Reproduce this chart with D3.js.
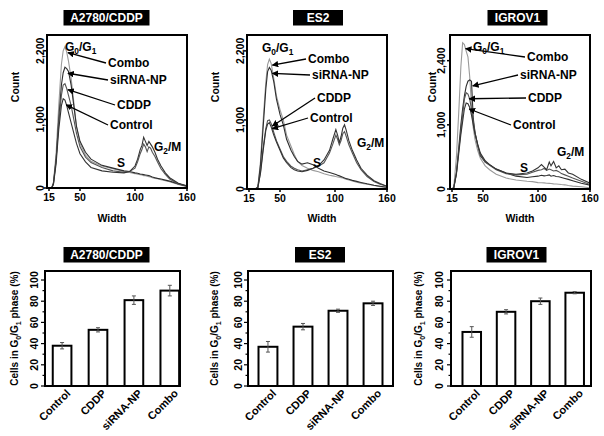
<!DOCTYPE html>
<html><head><meta charset="utf-8">
<script src="https://cdn.jsdelivr.net/npm/d3@7"></script>
<style>
body{margin:0;background:#fff;}
text{font-family:"Liberation Sans",Arial,Helvetica,sans-serif;font-weight:bold;fill:#000;}
</style></head><body>
<svg id="chart" width="604" height="436"></svg>
<script>
// ---------------- DATA ----------------
const cellLines = ["A2780/CDDP", "ES2", "IGROV1"];
const treatments = ["Control", "CDDP", "siRNA-NP", "Combo"];

// histogram axes
const widthTicks = [15, 50, 100, 160];
const widthTickLabels = ["15", "50", "100", "160"];
const countTicks = [0, 1000, 2000];
const countTickLabels = [["0", "1,000", "2,200"], ["0", "1,000", "2,200"], ["0", "1,000", "2,400"]];
const countMax = [2230, 2230, 2400];

// A2780/CDDP histogram
const a2780Width   = [15,18,20,23,26,29,31,33,35,37,40,43,46,50,55,60,70,80,90,95,100,103,106,108,110,112,114,116,118,120,123,126,130,135,140,150,160];
const a2780Combo   = [0,0,80,500,1200,1800,2000,2060,1980,1850,1600,1250,900,650,480,390,320,280,240,225,210,200,195,190,180,178,170,165,160,150,140,135,120,105,90,50,20];
const a2780Sirna   = [0,0,70,420,1000,1500,1680,1760,1740,1700,1500,1200,900,680,520,420,330,290,250,240,220,215,205,200,195,190,185,180,172,160,150,140,130,115,100,60,25];
const a2780Cddp    = [0,0,60,400,950,1350,1500,1520,1450,1350,1200,1000,800,600,450,370,300,250,230,240,290,380,500,560,640,600,530,600,580,520,460,380,280,200,130,60,30];
const a2780Control = [0,0,50,350,850,1200,1300,1280,1200,1100,950,800,650,500,380,300,250,230,220,240,320,420,560,620,740,680,620,680,640,600,520,420,320,220,150,70,30];

// ES2 histogram
const es2Width   = [15,22,25,28,31,34,36,38,40,43,46,50,53,56,60,63,66,70,75,80,85,90,95,98,101,103,105,107,109,111,113,116,120,125,130,137,145,152,160];
const es2Combo   = [0,0,30,400,1000,1550,1800,1880,1820,1600,1350,1150,1000,780,620,500,400,340,300,270,250,220,200,190,180,175,170,165,160,150,140,130,115,100,85,70,50,35,20];
const es2Sirna   = [0,0,25,350,900,1450,1700,1760,1720,1550,1300,1080,930,720,560,470,400,360,380,350,300,260,240,225,210,200,190,180,170,160,150,140,125,110,95,75,55,40,25];
const es2Cddp    = [0,0,20,250,600,880,990,1000,950,820,700,580,470,400,330,300,280,260,280,300,330,380,520,650,780,720,640,700,800,830,760,640,520,380,280,180,110,70,40];
const es2Control = [0,0,20,230,560,850,940,960,900,780,680,560,450,380,310,280,260,250,270,300,340,420,560,720,860,780,670,760,880,930,850,700,560,420,300,200,120,80,40];

// IGROV1 histogram
const igrovWidth   = [15,17,20,23,25,27,29,31,33,35,37,39,41,44,47,52,56,62,71,80,90,95,100,104,107,110,113,115,118,121,124,127,131,135,140,150,160];
const igrovCombo   = [0,30,500,1300,1900,2280,2250,2150,2060,1750,1300,950,770,600,480,360,300,230,170,140,120,115,100,98,95,90,88,85,80,78,75,70,65,55,45,35,20];
const igrovSirna   = [0,20,250,700,1000,1250,1450,1600,1680,1700,1680,1100,880,680,520,420,380,310,250,200,180,190,200,215,205,210,220,200,210,195,190,180,165,150,130,90,60];
const igrovCddp    = [0,20,250,650,900,1150,1400,1500,1480,1400,1250,1050,880,680,540,420,370,300,240,220,230,260,290,300,320,290,310,300,280,290,270,240,220,200,170,120,70];
const igrovControl = [0,20,230,600,850,1050,1250,1340,1330,1270,1150,1000,860,700,560,440,380,310,250,230,250,280,330,380,340,300,420,360,430,330,360,300,310,250,230,150,90];

// bar charts: % cells in G0/G1
const pctTicks = [0, 20, 40, 60, 80, 100];
const a2780Pct = [38, 53, 81, 90];
const a2780Err = [3, 2, 4, 5];
const es2Pct   = [37, 56, 71, 78];
const es2Err   = [5, 3, 1.5, 2];
const igrovPct = [51, 70, 80, 88];
const igrovErr = [5, 2, 3, 1];

// ---------------- LAYOUT ----------------
const svg = d3.select("#chart");
const defs = svg.append("defs");
defs.append("marker").attr("id", "ah").attr("viewBox", "0 0 10 10")
  .attr("refX", 9).attr("refY", 5).attr("markerWidth", 5).attr("markerHeight", 5)
  .attr("orient", "auto").append("path").attr("d", "M0,0L10,5L0,10z").attr("fill", "#000");

const seriesColor = {"Combo": "#9a9a9a", "siRNA-NP": "#2e2e2e", "CDDP": "#555", "Control": "#333"};

const histData = [
  {widths: a2780Width, series: {"Control": a2780Control, "CDDP": a2780Cddp, "siRNA-NP": a2780Sirna, "Combo": a2780Combo}},
  {widths: es2Width, series: {"Control": es2Control, "CDDP": es2Cddp, "siRNA-NP": es2Sirna, "Combo": es2Combo}},
  {widths: igrovWidth, series: {"Control": igrovControl, "CDDP": igrovCddp, "siRNA-NP": igrovSirna, "Combo": igrovCombo}}
];

const topLayout = [
  {L: 47, B: 188, countX: 15, tickBase: 44, widthX: 112, titleCX: 106.5, titleW: 86,
   lab: {"G0": [18, 16], "Combo": [61, 32], "siRNA-NP": [63, 49], "CDDP": [70, 74], "Control": [63, 94], "S": [70, 132], "G2": [107, 116]}},
  {L: 247, B: 189, countX: 215, tickBase: 244, widthX: 322, titleCX: 318, titleW: 50,
   lab: {"G0": [15, 17], "Combo": [61, 28], "siRNA-NP": [65, 44], "CDDP": [70, 67], "Control": [63, 87], "S": [66, 132], "G2": [110, 112]}},
  {L: 450, B: 189, countX: 432, tickBase: 445, widthX: 520, titleCX: 517.5, titleW: 60,
   lab: {"G0": [23, 16], "Combo": [77, 26], "siRNA-NP": [70, 44], "CDDP": [78, 67], "Control": [63, 94], "S": [70, 137], "G2": [107, 121]}}
];
const TOP = 35, PW = 140;

function titleBox(cx, y, w, label) {
  svg.append("rect").attr("x", cx - w / 2).attr("y", y).attr("width", w).attr("height", 15.5).attr("fill", "#000");
  svg.append("text").attr("x", cx).attr("y", y + 12).attr("text-anchor", "middle")
    .style("fill", "#fff").style("font-size", "12px").text(label);
}

function subText(g, x, y, parts, size) {
  const t = g.append("text").attr("x", x).attr("y", y).style("font-size", size + "px");
  parts.forEach(p => {
    const ts = t.append("tspan").text(p[0]);
    if (p[1] === "sub") ts.style("font-size", (size * 0.7) + "px").attr("dy", size * 0.25);
    if (p[1] === "up") ts.attr("dy", -size * 0.25);
  });
  return t;
}

histData.forEach((hd, i) => {
  const lay = topLayout[i];
  const L = lay.L, B = lay.B;
  const x = d3.scaleLinear().domain(widthTicks).range([L + 2, L + 33, L + 88, L + PW]);
  const y = d3.scaleLinear().domain([0, countMax[i]]).range([B, TOP]);

  titleBox(lay.titleCX, 10, lay.titleW, cellLines[i]);

  const clipId = "clip" + i;
  defs.append("clipPath").attr("id", clipId).append("rect")
    .attr("x", L).attr("y", TOP).attr("width", PW).attr("height", B - TOP);

  const line = d3.line().x(d => x(d[0])).y(d => y(d[1]));
  ["Combo", "siRNA-NP", "CDDP", "Control"].forEach(s => {
    const pts = hd.widths.map((w, k) => [w, hd.series[s][k]]);
    svg.append("path").datum(pts).attr("d", line).attr("fill", "none")
      .attr("stroke", seriesColor[s]).attr("stroke-width", 1.1).attr("clip-path", `url(#${clipId})`);
  });

  svg.append("rect").attr("x", L).attr("y", TOP).attr("width", PW).attr("height", B - TOP)
    .attr("fill", "none").attr("stroke", "#000").attr("stroke-width", 2);

  countTicks.forEach((v, k) => {
    svg.append("line").attr("x1", L - 3).attr("x2", L).attr("y1", y(v)).attr("y2", y(v)).attr("stroke", "#000").attr("stroke-width", 1.5);
    svg.append("text").attr("transform", `translate(${lay.tickBase},${y(v)}) rotate(-90)`)
      .attr("text-anchor", "middle").style("font-size", "10.5px").text(countTickLabels[i][k]);
  });
  widthTicks.forEach((v, k) => {
    svg.append("line").attr("x1", x(v)).attr("x2", x(v)).attr("y1", B).attr("y2", B + 3).attr("stroke", "#000").attr("stroke-width", 1.5);
    svg.append("text").attr("x", x(v)).attr("y", B + 13).attr("text-anchor", "middle").style("font-size", "10.5px").text(widthTickLabels[k]);
  });
  svg.append("text").attr("x", lay.widthX).attr("y", 222).attr("text-anchor", "middle").style("font-size", "10.5px").text("Width");
  svg.append("text").attr("transform", `translate(${lay.countX + 4},${87}) rotate(-90)`)
    .attr("text-anchor", "middle").style("font-size", "10.5px").text("Count");

  const g = svg.append("g");
  subText(g, L + lay.lab.G0[0], TOP + lay.lab.G0[1], [["G"], ["0", "sub"], ["/G", "up"], ["1", "sub"]], 12);
  subText(g, L + lay.lab.G2[0], TOP + lay.lab.G2[1], [["G"], ["2", "sub"], ["/M", "up"]], 12);
  g.append("text").attr("x", L + lay.lab.S[0]).attr("y", TOP + lay.lab.S[1]).style("font-size", "12px").text("S");
  treatments.forEach(s => {
    const counts = hd.series[s];
    const k = d3.maxIndex(counts);
    const tipX = x(hd.widths[k]) + 3, tipY = y(counts[k]) + 6;
    const tx = L + lay.lab[s][0], ty = TOP + lay.lab[s][1];
    g.append("line").attr("x1", tx - 2).attr("y1", ty - 4).attr("x2", tipX).attr("y2", tipY)
      .attr("stroke", "#000").attr("stroke-width", 1.3).attr("marker-end", "url(#ah)");
    g.append("text").attr("x", tx).attr("y", ty).style("font-size", "12px").text(s);
  });
});

// ---------------- BAR CHARTS ----------------
const barData = [
  {pct: a2780Pct, err: a2780Err},
  {pct: es2Pct, err: es2Err},
  {pct: igrovPct, err: igrovErr}
];
const botLayout = [
  {L: 45, R: 180, pi: 0.48, po: 0.12, align: 0.9, tickBase: 38, labBase: 18, titleCX: 106.5, titleW: 86},
  {L: 248, R: 393, pi: 0.46, po: 0.3, align: 0.5, tickBase: 242, labBase: 218, titleCX: 320, titleW: 50},
  {L: 451, R: 591, pi: 0.46, po: 0.27, align: 0.62, tickBase: 443, labBase: 422, titleCX: 516.5, titleW: 60}
];
const BT = 271, BB = 386;

barData.forEach((bd, i) => {
  const lay = botLayout[i];
  const x = d3.scaleBand().domain(treatments).range([lay.L, lay.R])
    .paddingInner(lay.pi).paddingOuter(lay.po).align(lay.align);
  const y = d3.scaleLinear().domain([0, 108.5]).range([BB, BT]);

  titleBox(lay.titleCX, 247, lay.titleW, cellLines[i]);

  treatments.forEach((t, k) => {
    svg.append("rect").attr("x", x(t)).attr("y", y(bd.pct[k])).attr("width", x.bandwidth())
      .attr("height", y(0) - y(bd.pct[k])).attr("fill", "#fff").attr("stroke", "#000").attr("stroke-width", 2);
    const cx = x(t) + x.bandwidth() / 2;
    const e = bd.err[k];
    svg.append("line").attr("x1", cx).attr("x2", cx).attr("y1", y(bd.pct[k] - e)).attr("y2", y(bd.pct[k] + e)).attr("stroke", "#555").attr("stroke-width", 1);
    [bd.pct[k] - e, bd.pct[k] + e].forEach(v => {
      svg.append("line").attr("x1", cx - 2).attr("x2", cx + 2).attr("y1", y(v)).attr("y2", y(v)).attr("stroke", "#555").attr("stroke-width", 1);
    });
    svg.append("text").attr("transform", `translate(${cx + 9},${BB + 8}) rotate(-45)`)
      .attr("text-anchor", "end").style("font-size", "11px").text(t);
  });

  svg.append("rect").attr("x", lay.L).attr("y", BT).attr("width", lay.R - lay.L).attr("height", BB - BT)
    .attr("fill", "none").attr("stroke", "#000").attr("stroke-width", 2);

  d3.range(0, 101, 10).forEach(v => {
    const major = v % 20 === 0;
    svg.append("line").attr("x1", lay.L - (major ? 4 : 2.5)).attr("x2", lay.L).attr("y1", y(v)).attr("y2", y(v))
      .attr("stroke", "#000").attr("stroke-width", 1.2);
  });
  pctTicks.forEach(v => {
    svg.append("text").attr("transform", `translate(${lay.tickBase},${y(v)}) rotate(-90)`)
      .attr("text-anchor", "middle").style("font-size", "10.5px").text(v);
  });
  const yl = svg.append("text").attr("transform", `translate(${lay.labBase},${(BT + BB) / 2}) rotate(-90)`)
    .attr("text-anchor", "middle").style("font-size", "10px");
  yl.append("tspan").text("Cells in G");
  yl.append("tspan").text("0").style("font-size", "7px").attr("dy", 2.5);
  yl.append("tspan").text("/G").attr("dy", -2.5);
  yl.append("tspan").text("1").style("font-size", "7px").attr("dy", 2.5);
  yl.append("tspan").text(" phase (%)").attr("dy", -2.5);
});
</script>
</body></html>
